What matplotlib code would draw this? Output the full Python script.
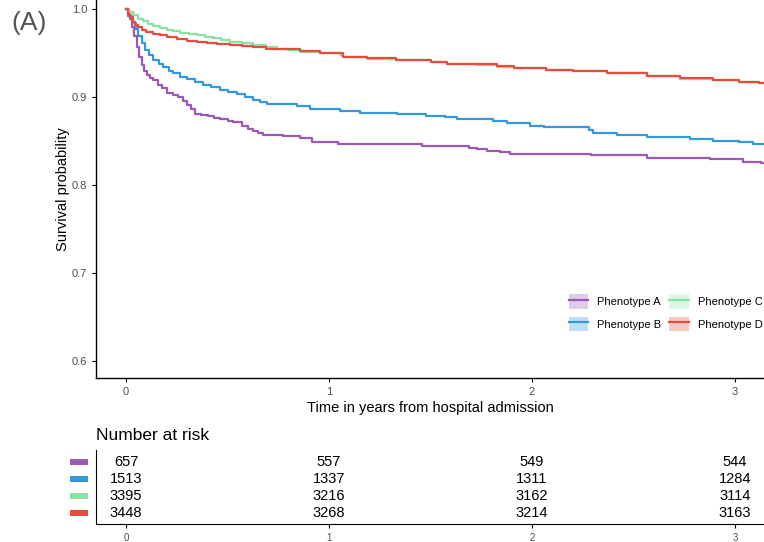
import matplotlib.pyplot as plt
from matplotlib.patches import Patch, Rectangle
from matplotlib.lines import Line2D

plt.rcParams['font.family'] = ['Liberation Sans', 'DejaVu Sans']

# survival curves (time in years, survival probability)
time_a = [0, 0.01, 0.028, 0.04, 0.053, 0.065, 0.077, 0.09, 0.102, 0.12, 0.135, 0.155, 0.176, 0.2,
          0.23, 0.258, 0.28, 0.299, 0.32, 0.34, 0.37, 0.406, 0.435, 0.463, 0.5, 0.529, 0.57, 0.6,
          0.627, 0.65, 0.676, 0.775, 0.857, 0.915, 1.045, 1.46, 1.69, 1.73, 1.78, 1.84, 1.89,
          2.29, 2.565, 2.877, 3.04, 3.13, 3.15]
surv_a = [1.0, 0.992, 0.980, 0.969, 0.957, 0.946, 0.936, 0.930, 0.925, 0.922, 0.919, 0.914, 0.910, 0.905,
          0.902, 0.900, 0.896, 0.891, 0.886, 0.881, 0.879, 0.878, 0.876, 0.875, 0.873, 0.872, 0.867, 0.864,
          0.861, 0.859, 0.857, 0.856, 0.853, 0.849, 0.847, 0.844, 0.842, 0.841, 0.839, 0.837, 0.835,
          0.834, 0.831, 0.829, 0.8265, 0.825, 0.825]

time_b = [0, 0.015, 0.036, 0.048, 0.061, 0.078, 0.094, 0.115, 0.135, 0.16, 0.184, 0.21, 0.233, 0.265,
          0.299, 0.34, 0.381, 0.42, 0.463, 0.5, 0.545, 0.585, 0.627, 0.66, 0.693, 0.841, 0.906,
          1.054, 1.153, 1.333, 1.48, 1.57, 1.63, 1.81, 1.875, 1.99, 2.06, 2.28, 2.3, 2.42, 2.565,
          2.69, 2.78, 2.89, 3.02, 3.09, 3.15]
surv_b = [1.0, 0.997, 0.984, 0.977, 0.969, 0.961, 0.953, 0.948, 0.942, 0.938, 0.934, 0.930, 0.927, 0.923,
          0.920, 0.917, 0.914, 0.911, 0.908, 0.906, 0.903, 0.900, 0.897, 0.894, 0.892, 0.890, 0.886,
          0.884, 0.882, 0.881, 0.878, 0.877, 0.875, 0.873, 0.870, 0.867, 0.8655, 0.8625, 0.8595, 0.857, 0.855,
          0.854, 0.852, 0.850, 0.849, 0.847, 0.847]

time_c = [0, 0.015, 0.036, 0.06, 0.085, 0.11, 0.135, 0.165, 0.2, 0.23, 0.266, 0.31, 0.348, 0.39,
          0.43, 0.47, 0.512, 0.57, 0.627, 0.69, 0.742, 0.8, 0.857, 0.956, 1.054, 1.07, 1.186, 1.33,
          1.5, 1.58, 1.73, 1.83, 1.91, 2.07, 2.2, 2.37, 2.565, 2.73, 2.89, 3.02, 3.12, 3.15]
surv_c = [1.0, 0.997, 0.993, 0.989, 0.986, 0.983, 0.981, 0.978, 0.976, 0.9745, 0.973, 0.9715, 0.970, 0.9685,
          0.967, 0.965, 0.963, 0.961, 0.959, 0.957, 0.955, 0.953, 0.9515, 0.9497, 0.948, 0.9455, 0.9435, 0.9415,
          0.9395, 0.9375, 0.9365, 0.9345, 0.9328, 0.9303, 0.9297, 0.9268, 0.9238, 0.921, 0.919, 0.9172, 0.916, 0.916]

time_d = [0, 0.008, 0.02, 0.032, 0.044, 0.06, 0.077, 0.1, 0.135, 0.165, 0.2, 0.25, 0.299, 0.35,
          0.397, 0.45, 0.512, 0.57, 0.627, 0.69, 0.759, 0.857, 0.956, 1.07, 1.186, 1.33, 1.5, 1.58,
          1.73, 1.83, 1.91, 2.07, 2.2, 2.37, 2.565, 2.73, 2.89, 3.02, 3.12, 3.15]
surv_d = [1.0, 0.994, 0.989, 0.985, 0.982, 0.979, 0.976, 0.974, 0.972, 0.970, 0.9685, 0.966, 0.964, 0.9625,
          0.961, 0.960, 0.959, 0.958, 0.9565, 0.955, 0.954, 0.9526, 0.950, 0.946, 0.944, 0.942, 0.940, 0.938,
          0.937, 0.935, 0.933, 0.9307, 0.930, 0.927, 0.924, 0.9213, 0.919, 0.9174, 0.9163, 0.9163]

groups = ['Phenotype A', 'Phenotype B', 'Phenotype C', 'Phenotype D']
colors = ['#9B59B6', '#3498DB', '#88E3A2', '#E74C3C']
curves = [(time_a, surv_a), (time_b, surv_b), (time_c, surv_c), (time_d, surv_d)]

# number at risk table
risk_times = [0, 1, 2, 3]
at_risk = [
    [657, 557, 549, 544],
    [1513, 1337, 1311, 1284],
    [3395, 3216, 3162, 3114],
    [3448, 3268, 3214, 3163],
]

W, H = 764, 542
fig = plt.figure(figsize=(W / 100, H / 100), dpi=100)

xlim = (-0.148, 3.143)
tick_grey = '#4D4D4D'

# main survival plot
ax = fig.add_axes([96 / W, 1 - 378 / H, 1 - 96 / W, 378 / H])
for i in [1, 0, 2, 3]:
    t, s = curves[i]
    ax.plot(t, s, drawstyle='steps-post', color=colors[i], lw=1.6)
ax.set_xlim(*xlim)
ax.set_ylim(0.5807, 1.0102)
ax.set_xticks([0, 1, 2, 3])
ax.set_yticks([0.6, 0.7, 0.8, 0.9, 1.0])
ax.set_yticklabels(['0.6', '0.7', '0.8', '0.9', '1.0'])
ax.tick_params(labelsize=8, colors='black', labelcolor=tick_grey, length=3, width=0.8)
for side in ['top', 'right']:
    ax.spines[side].set_visible(False)
for side in ['left', 'bottom']:
    ax.spines[side].set_linewidth(1.0)
ax.set_ylabel('Survival probability', fontsize=10.5, labelpad=1)
ax.set_xlabel('Time in years from hospital admission', fontsize=10.5, labelpad=3)

# legend keys: light band box with the line on top
handles = []
for c in colors:
    handles.append((Patch(facecolor=c, alpha=0.3, edgecolor='none'),
                    Line2D([], [], color=c, lw=1.6)))
ax.legend(handles, groups, ncol=2, frameon=False, fontsize=8, loc='upper left',
          bbox_to_anchor=(0.708, 0.221), borderaxespad=0, borderpad=0,
          handlelength=1.75, handleheight=1.6, handletextpad=0.8,
          columnspacing=0.7, labelspacing=0.75)

# (A) panel tag
fig.text(11 / W, 1 - 23 / H, '(A)', fontsize=19, color='#555555', va='center', ha='left')

# number at risk table
tab = fig.add_axes([96 / W, 1 - 524 / H, 1 - 96 / W, 74 / H])
tab.set_xlim(*xlim)
tab.set_ylim(-0.647, 3.706)
for i, row in enumerate(at_risk):
    yv = 3 - i
    for t, n in zip(risk_times, row):
        tab.text(t, yv, str(n), ha='center', va='center', fontsize=10.5)
    tab.add_patch(Rectangle((-0.276, yv - 0.17), 0.0887, 0.34, facecolor=colors[i],
                            edgecolor='none', clip_on=False))
tab.set_xticks([0, 1, 2, 3])
tab.set_yticks([])
tab.tick_params(labelsize=7, labelcolor=tick_grey, length=3, width=0.8)
for side in ['top', 'right']:
    tab.spines[side].set_visible(False)
fig.text(96 / W, 1 - 436 / H, 'Number at risk', fontsize=12.5, va='center', ha='left')

fig.savefig('out.png', dpi=100)
